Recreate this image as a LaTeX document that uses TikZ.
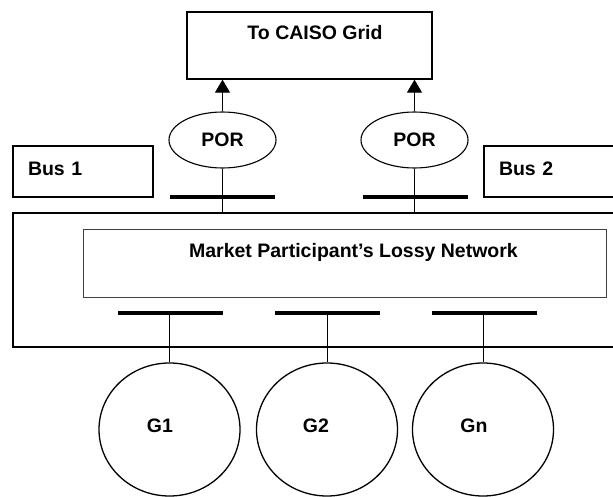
\documentclass[tikz,border=0pt]{standalone}
\usepackage{fontspec}
\setmainfont{Liberation Sans}
\usetikzlibrary{positioning,shapes.geometric,arrows.meta}
\tikzset{
  box/.style={draw,line width=1.3pt,inner sep=0},
  busbox/.style={draw,line width=1.3pt,inner xsep=15pt,minimum height=51pt,text depth=6pt,align=left},
  por/.style={draw,ellipse,line width=1.1pt,minimum width=107pt,minimum height=56pt,inner sep=0},
  gen/.style={draw,ellipse,line width=1.3pt,minimum width=141pt,minimum height=133pt,inner sep=0},
  bar/.style={fill=black,minimum width=105pt,minimum height=4pt,inner sep=0},
  lbl/.style={inner sep=0},
  wire/.style={line width=1pt}
}
\begin{document}
\begin{tikzpicture}[x=1pt,y=-1pt,font=\bfseries\fontsize{19.5}{23}\selectfont]
\useasboundingbox (0,0) rectangle (613,497);
\clip (0,0) rectangle (613,497);
\node[box,minimum width=245pt,minimum height=67pt] (grid) at (309.5,45.5) {};
\node[lbl] (gridtxt) at (315,33) {To CAISO Grid};
\node[por] (por1) at (222.5,140) {POR};
\node[por] (por2) at (414.5,140) {POR};
\draw[wire,-{Triangle[length=13pt,width=15pt]}] (por1) -- (por1 |- grid.south);
\draw[wire,-{Triangle[length=13pt,width=15pt]}] (por2) -- (por2 |- grid.south);
\node[busbox,text width=110pt] (bus1) at (83,171.5) {Bus 1};
\node[busbox,text width=130pt] (bus2) at (564,171.5) {Bus 2};
\node[bar] (tbar1) at (222.5,197) {};
\node[bar] (tbar2) at (415.5,197) {};
\node[box,minimum width=637pt,minimum height=134pt] (site) at (331.5,280) {};
\draw[wire] (por1) -- (por1 |- site.north);
\draw[wire] (por2) -- (por2 |- site.north);
\node[box,line width=1pt,draw=black!75,minimum width=523pt,minimum height=67pt] (net) at (344.5,263.5) {};
\node[lbl] (nettxt) at (353.5,252) {Market Participant’s Lossy Network};
\node[bar] (bbar1) at (170.5,313) {};
\node[bar] (bbar2) at (327.5,313) {};
\node[bar] (bbar3) at (484.5,313) {};
\node[gen] (g1) at (169.5,429.5) {};
\node[gen] (g2) at (327,429.5) {};
\node[gen] (gn) at (483,429.5) {};
\draw[wire] (g1.north |- bbar1) -- (g1.north);
\draw[wire] (g2.north |- bbar2) -- (g2.north);
\draw[wire] (gn.north |- bbar3) -- (gn.north);
\node[lbl] (g1txt) at (160,426) {G1};
\node[lbl] (g2txt) at (316,426) {G2};
\node[lbl] (gntxt) at (474,426) {Gn};
\end{tikzpicture}
\end{document}
